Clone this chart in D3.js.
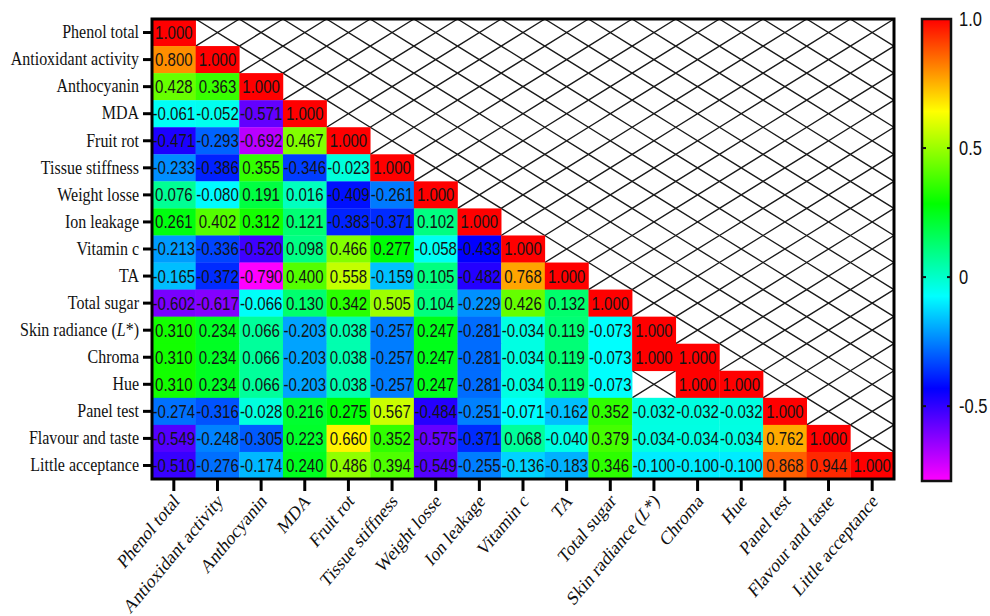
<!DOCTYPE html>
<html>
<head>
<meta charset="utf-8">
<script src="https://cdn.jsdelivr.net/npm/d3@7"></script>
<style>
  html, body { margin: 0; padding: 0; background: #fff; }
  svg { display: block; }
</style>
</head>
<body>
<svg id="chart" width="990" height="616"></svg>
<script>
// Variables (rows top→bottom, columns left→right)
const variables = [
  "Phenol total", "Antioxidant activity", "Anthocyanin", "MDA", "Fruit rot",
  "Tissue stiffness", "Weight losse", "Ion leakage", "Vitamin c", "TA",
  "Total sugar", "Skin radiance (L*)", "Chroma", "Hue", "Panel test",
  "Flavour and taste", "Little acceptance"
];

// Lower-triangle correlation coefficients, one array per row (null = no value)
const rowPhenol      = [1.000];
const rowAntioxidant = [0.800, 1.000];
const rowAnthocyanin = [0.428, 0.363, 1.000];
const rowMDA         = [-0.061, -0.052, -0.571, 1.000];
const rowFruitRot    = [-0.471, -0.293, -0.692, 0.467, 1.000];
const rowTissue      = [-0.233, -0.386, 0.355, -0.346, -0.023, 1.000];
const rowWeight      = [0.076, -0.080, 0.191, 0.016, -0.409, -0.261, 1.000];
const rowIon         = [0.261, 0.402, 0.312, 0.121, -0.383, -0.371, 0.102, 1.000];
const rowVitaminC    = [-0.213, -0.336, -0.520, 0.098, 0.466, 0.277, -0.058, -0.433, 1.000];
const rowTA          = [-0.165, -0.372, -0.790, 0.400, 0.558, -0.159, 0.105, -0.482, 0.768, 1.000];
const rowSugar       = [-0.602, -0.617, -0.066, 0.130, 0.342, 0.505, 0.104, -0.229, 0.426, 0.132, 1.000];
const rowSkin        = [0.310, 0.234, 0.066, -0.203, 0.038, -0.257, 0.247, -0.281, -0.034, 0.119, -0.073, 1.000];
const rowChroma      = [0.310, 0.234, 0.066, -0.203, 0.038, -0.257, 0.247, -0.281, -0.034, 0.119, -0.073, 1.000, 1.000];
const rowHue         = [0.310, 0.234, 0.066, -0.203, 0.038, -0.257, 0.247, -0.281, -0.034, 0.119, -0.073, null, 1.000, 1.000];
const rowPanel       = [-0.274, -0.316, -0.028, 0.216, 0.275, 0.567, -0.484, -0.251, -0.071, -0.162, 0.352, -0.032, -0.032, -0.032, 1.000];
const rowFlavour     = [-0.549, -0.248, -0.305, 0.223, 0.660, 0.352, -0.575, -0.371, 0.068, -0.040, 0.379, -0.034, -0.034, -0.034, 0.762, 1.000];
const rowAcceptance  = [-0.510, -0.276, -0.174, 0.240, 0.486, 0.394, -0.549, -0.255, -0.136, -0.183, 0.346, -0.100, -0.100, -0.100, 0.868, 0.944, 1.000];

const matrixRows = [rowPhenol, rowAntioxidant, rowAnthocyanin, rowMDA, rowFruitRot,
  rowTissue, rowWeight, rowIon, rowVitaminC, rowTA, rowSugar, rowSkin, rowChroma,
  rowHue, rowPanel, rowFlavour, rowAcceptance];

// Colour bar range and tick values
const colorMin = -0.79, colorMax = 1.0;
const colorTicks = [1.0, 0.5, 0, -0.5];
const colorTickLabels = ["1.0", "0.5", "0", "-0.5"];

// ---- layout ----
const plot = { left: 152, right: 894, top: 19, bottom: 479 };
const bar = { left: 922, right: 951, top: 19, bottom: 481 };
const tall = 1.2;   // glyphs are drawn slightly taller than wide

const svg = d3.select("#chart");

const x = d3.scaleBand().domain(variables).range([plot.left, plot.right]);
const y = d3.scaleBand().domain(variables).range([plot.top, plot.bottom]);

// rainbow: red at +1 through yellow, green, cyan, blue to magenta at the minimum
const hueSpan = 300;
const hueScale = d3.scaleLinear().domain([colorMax, colorMin]).range([0, hueSpan]).clamp(true);
const color = v => d3.hsl(hueScale(v), 1, 0.5).formatHex();

// flatten to cells, filling the empty upper triangle with nulls
const cells = [];
variables.forEach((rv, i) => {
  variables.forEach((cv, j) => {
    const row = matrixRows[i];
    const v = j < row.length ? row[j] : null;
    cells.push({ row: rv, col: cv, value: v });
  });
});

const gCells = svg.append("g");

// hatched empty cells (two diagonals each)
const empty = cells.filter(d => d.value === null);
const hatch = gCells.append("g")
  .attr("stroke", "#1a1a1a").attr("stroke-width", 1.4).attr("fill", "none");
hatch.selectAll("path").data(empty).join("path")
  .attr("d", d => {
    const x0 = x(d.col), x1 = x0 + x.bandwidth();
    const y0 = y(d.row), y1 = y0 + y.bandwidth();
    return `M${x0},${y0}L${x1},${y1}M${x1},${y0}L${x0},${y1}`;
  });

// coloured value cells
const filled = cells.filter(d => d.value !== null);
gCells.selectAll("rect.cell").data(filled).join("rect")
  .attr("class", "cell")
  .attr("x", d => x(d.col))
  .attr("y", d => y(d.row))
  .attr("width", x.bandwidth() + 0.3)
  .attr("height", y.bandwidth() + 0.3)
  .attr("fill", d => color(d.value));

gCells.selectAll("text.val").data(filled).join("text")
  .attr("class", "val")
  .attr("transform", d =>
    `translate(${x(d.col) + x.bandwidth() / 2},${y(d.row) + y.bandwidth() / 2}) scale(1,${tall})`)
  .attr("dy", "0.36em")
  .attr("text-anchor", "middle")
  .attr("font-family", "'Liberation Sans', Arial, sans-serif")
  .attr("font-size", 15)
  .attr("fill", "#141414")
  .text(d => d3.format(".3f")(d.value).replace("−", "-"));

// frame
svg.append("rect")
  .attr("x", plot.left).attr("y", plot.top)
  .attr("width", plot.right - plot.left).attr("height", plot.bottom - plot.top)
  .attr("fill", "none").attr("stroke", "#000").attr("stroke-width", 3);

// label writer that italicises L in "Skin radiance (L*)"
function writeLabel(sel) {
  sel.each(function(d) {
    const t = d3.select(this);
    t.text(null);
    const m = /^(.*\()L(\*\))$/.exec(d);
    if (m) {
      t.append("tspan").text(m[1]);
      t.append("tspan").attr("font-style", "italic").text("L");
      t.append("tspan").text(m[2]);
    } else {
      t.text(d);
    }
  });
}

// y axis
const yAxis = svg.append("g")
  .attr("transform", `translate(${plot.left},0)`)
  .call(d3.axisLeft(y).tickSize(9).tickPadding(4));
yAxis.select(".domain").remove();
yAxis.selectAll(".tick line").attr("stroke", "#000").attr("stroke-width", 3);
yAxis.selectAll(".tick text")
  .attr("font-family", "'Liberation Serif', 'Times New Roman', serif")
  .attr("font-size", 16).attr("fill", "#111")
  .attr("dy", "0.3em")
  .attr("transform", `scale(1,${tall})`)
  .call(writeLabel);

// x axis
const xAxis = svg.append("g")
  .attr("transform", `translate(0,${plot.bottom})`)
  .call(d3.axisBottom(x).tickSize(12).tickPadding(4));
xAxis.select(".domain").remove();
xAxis.selectAll(".tick line").attr("stroke", "#000").attr("stroke-width", 3);
xAxis.selectAll(".tick text")
  .attr("font-family", "'Liberation Serif', 'Times New Roman', serif")
  .attr("font-size", 16.5).attr("fill", "#111")
  .attr("text-anchor", "end")
  .attr("dy", "0.3em")
  .attr("y", 0)
  .attr("transform", `translate(3,19) scale(1,${tall}) rotate(-45)`)
  .call(writeLabel);

// ---- colour bar ----
const cy = d3.scaleLinear().domain([colorMin, colorMax]).range([bar.bottom, bar.top]);
const defs = svg.append("defs");
const grad = defs.append("linearGradient")
  .attr("id", "rainbow").attr("x1", 0).attr("y1", 1).attr("x2", 0).attr("y2", 0);
d3.range(0, 1.0001, 0.05).forEach(t => {
  const v = colorMin + t * (colorMax - colorMin);
  grad.append("stop").attr("offset", t).attr("stop-color", color(v));
});
svg.append("rect")
  .attr("x", bar.left).attr("y", bar.top)
  .attr("width", bar.right - bar.left).attr("height", bar.bottom - bar.top)
  .attr("fill", "url(#rainbow)")
  .attr("stroke", "#111").attr("stroke-width", 2.5);

const gTicks = svg.append("g");
colorTicks.forEach((v, i) => {
  const ty = cy(v);
  if (v < colorMax) {
    gTicks.append("line").attr("x1", bar.left).attr("x2", bar.left + 4)
      .attr("y1", ty).attr("y2", ty).attr("stroke", "#111").attr("stroke-width", 2);
    gTicks.append("line").attr("x1", bar.right - 4).attr("x2", bar.right)
      .attr("y1", ty).attr("y2", ty).attr("stroke", "#111").attr("stroke-width", 2);
  }
  gTicks.append("text")
    .attr("transform", `translate(${bar.right + 8},${ty}) scale(1,${tall})`)
    .attr("dy", "0.35em")
    .attr("font-family", "'Liberation Sans', Arial, sans-serif")
    .attr("font-size", 16.5).attr("fill", "#111")
    .text(colorTickLabels[i]);
});
</script>
</body>
</html>
